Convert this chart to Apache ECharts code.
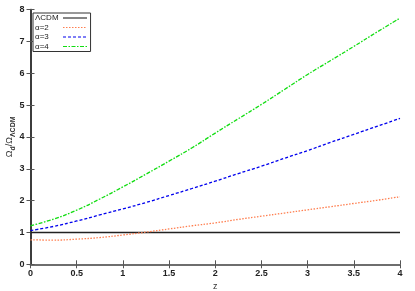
<!DOCTYPE html>
<html>
<head>
<meta charset="utf-8">
<script src="https://cdn.jsdelivr.net/npm/echarts@6/dist/echarts.min.js"></script>
<style>html,body{margin:0;padding:0;background:#fff}#c{width:415px;height:291px}</style>
</head>
<body>
<div id="c"></div>
<script>
const zValues = [0, 0.25, 0.5, 0.75, 1.0, 1.25, 1.5, 1.75, 2.0, 2.25, 2.5, 2.75, 3.0, 3.25, 3.5, 3.75, 4.0];
const lcdm   = [1, 1, 1, 1, 1, 1, 1, 1, 1, 1, 1, 1, 1, 1, 1, 1, 1];
const alpha2 = [0.77, 0.76, 0.79, 0.84, 0.92, 1.01, 1.11, 1.21, 1.30, 1.41, 1.51, 1.61, 1.71, 1.81, 1.91, 2.01, 2.12];
const alpha3 = [1.06, 1.19, 1.36, 1.55, 1.74, 1.94, 2.16, 2.38, 2.61, 2.85, 3.08, 3.33, 3.57, 3.83, 4.08, 4.33, 4.58];
const alpha4 = [1.21, 1.42, 1.70, 2.05, 2.43, 2.83, 3.24, 3.66, 4.12, 4.57, 5.02, 5.49, 5.96, 6.40, 6.84, 7.29, 7.73];
const seriesNames = ['ΛCDM', 'α=2', 'α=3', 'α=4'];
const xTicks = [0, 0.5, 1, 1.5, 2, 2.5, 3, 3.5, 4];
const yTicks = [0, 1, 2, 3, 4, 5, 6, 7, 8];

const pairs = arr => zValues.map((z, i) => [z, arr[i]]);
const font = 'Liberation Sans, Arial, sans-serif';
const axisLine = { show: true, lineStyle: { color: '#666', width: 1.5 } };
const axisTick = { show: true, inside: true, length: 4, lineStyle: { color: '#555', width: 1 } };

const chart = echarts.init(document.getElementById('c'), null, { renderer: 'canvas' });
chart.setOption({
  animation: false,
  backgroundColor: '#fff',
  grid: { left: 30.5, right: 15, top: 9.5, bottom: 26.7, containLabel: false, outerBoundsMode: 'none' },
  legend: {
    orient: 'vertical', left: 33, top: 13,
    align: 'right',
    data: seriesNames,
    itemWidth: 24, itemHeight: 7, itemGap: 1.5,
    padding: [1, 3, 1, 2],
    borderColor: '#333', borderWidth: 1, backgroundColor: '#fff',
    itemStyle: { opacity: 0 },
    lineStyle: { width: 1.1 },
    formatter: name => '{t|' + name + '}',
    textStyle: {
      fontSize: 8, fontFamily: font, color: '#222',
      rich: { t: { fontSize: 8, fontFamily: font, color: '#222', width: 23, align: 'left' } }
    }
  },
  xAxis: [{
    type: 'value', min: xTicks[0], max: xTicks[xTicks.length - 1], interval: 0.5,
    name: 'z', nameLocation: 'middle', nameGap: 18, nameMoveOverlap: false,
    nameTextStyle: { fontSize: 9, fontFamily: font, color: '#333' },
    axisLine, axisTick,
    axisLabel: { fontSize: 9, fontWeight: 'bold', fontFamily: font, color: '#222', margin: 5 },
    splitLine: { show: false }
  }, {
    type: 'value', position: 'top', min: xTicks[0], max: xTicks[xTicks.length - 1], interval: 0.5,
    axisLine, axisTick, axisLabel: { show: false }, splitLine: { show: false }
  }],
  yAxis: [{
    type: 'value', min: yTicks[0], max: yTicks[yTicks.length - 1], interval: 1,
    name: '{m|Ω}{s|d}{m|/Ω}{s|ΛCDM}', nameLocation: 'middle', nameGap: 14, nameRotate: 90,
    nameMoveOverlap: false,
    nameTextStyle: {
      fontFamily: font, color: '#333', lineHeight: 14,
      rich: {
        m: { fontSize: 9, fontFamily: font, color: '#333', verticalAlign: 'middle', lineHeight: 14 },
        s: { fontSize: 7, fontWeight: 'bold', fontFamily: font, color: '#333', verticalAlign: 'bottom', lineHeight: 14 }
      }
    },
    axisLine, axisTick,
    axisLabel: { fontSize: 9, fontWeight: 'bold', fontFamily: font, color: '#222', margin: 6 },
    splitLine: { show: false }
  }, {
    type: 'value', position: 'right', min: yTicks[0], max: yTicks[yTicks.length - 1], interval: 1,
    axisLine: { show: true, lineStyle: { color: '#222', width: 1.5 } }, axisTick,
    axisLabel: { show: false }, splitLine: { show: false }
  }],
  series: [
    { name: seriesNames[0], type: 'line', data: pairs(lcdm), showSymbol: false, symbol: 'none',
      lineStyle: { color: '#222', width: 1.5, type: 'solid' }, itemStyle: { color: '#222' }, z: 1 },
    { name: seriesNames[1], type: 'line', data: pairs(alpha2), smooth: true, showSymbol: false, symbol: 'none',
      lineStyle: { color: '#ff7f50', width: 1.3, type: [1.5, 1.5] }, itemStyle: { color: '#ff7f50' } },
    { name: seriesNames[2], type: 'line', data: pairs(alpha3), smooth: true, showSymbol: false, symbol: 'none',
      lineStyle: { color: '#0000ee', width: 1.3, type: [3, 2] }, itemStyle: { color: '#0000ee' } },
    { name: seriesNames[3], type: 'line', data: pairs(alpha4), smooth: true, showSymbol: false, symbol: 'none',
      lineStyle: { color: '#11dd11', width: 1.3, type: [4, 1.5, 1.5, 1.5] }, itemStyle: { color: '#11dd11' } }
  ]
});
</script>
</body>
</html>
